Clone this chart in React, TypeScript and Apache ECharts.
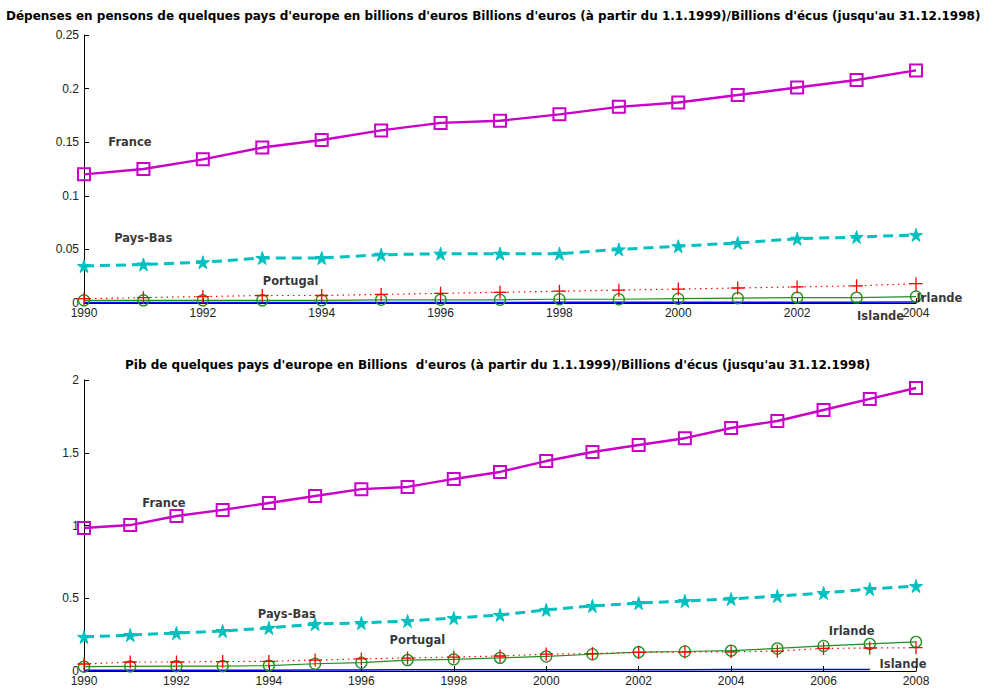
import React, { useEffect, useRef } from "react";
import * as echarts from "echarts";

// ---------- Data ----------
const yearsPension = [1990, 1991, 1992, 1993, 1994, 1995, 1996, 1997, 1998, 1999, 2000, 2001, 2002, 2003, 2004];
const pensionFrance = [0.120, 0.125, 0.134, 0.145, 0.152, 0.161, 0.168, 0.170, 0.176, 0.183, 0.187, 0.194, 0.201, 0.208, 0.217];
const pensionPaysBas = [0.0345, 0.036, 0.038, 0.042, 0.042, 0.045, 0.046, 0.046, 0.046, 0.050, 0.053, 0.056, 0.060, 0.0615, 0.0635];
const pensionPortugal = [0.004, 0.005, 0.006, 0.007, 0.007, 0.008, 0.009, 0.010, 0.011, 0.012, 0.013, 0.014, 0.015, 0.016, 0.018];
const pensionIrlande = [0.0025, 0.0025, 0.0025, 0.0025, 0.0025, 0.003, 0.003, 0.003, 0.0035, 0.0035, 0.004, 0.0045, 0.005, 0.005, 0.006];
const pensionIslande = [0.0004, 0.0004, 0.0004, 0.0004, 0.0004, 0.0005, 0.0005, 0.0005, 0.0006, 0.0006, 0.0007, 0.0007, 0.0008, 0.0008, 0.0009];

const yearsPib = [1990, 1991, 1992, 1993, 1994, 1995, 1996, 1997, 1998, 1999, 2000, 2001, 2002, 2003, 2004, 2005, 2006, 2007, 2008];
const pibFrance = [0.983, 1.003, 1.065, 1.107, 1.155, 1.203, 1.25, 1.265, 1.32, 1.368, 1.443, 1.505, 1.553, 1.60, 1.67, 1.718, 1.794, 1.87, 1.945];
const pibPaysBas = [0.234, 0.247, 0.261, 0.275, 0.296, 0.323, 0.33, 0.344, 0.364, 0.385, 0.42, 0.447, 0.467, 0.481, 0.495, 0.515, 0.536, 0.564, 0.584];
const pibPortugal = [0.048, 0.062, 0.062, 0.065, 0.066, 0.075, 0.083, 0.089, 0.096, 0.103, 0.116, 0.12, 0.128, 0.13, 0.132, 0.137, 0.155, 0.158, 0.16];
const pibIrlande = [0.03, 0.032, 0.033, 0.034, 0.037, 0.05, 0.057, 0.075, 0.08, 0.09, 0.1, 0.115, 0.13, 0.134, 0.14, 0.155, 0.172, 0.186, 0.2];
const pibIslande = [0.006, 0.006, 0.006, 0.006, 0.006, 0.007, 0.007, 0.008, 0.008, 0.009, 0.009, 0.009, 0.009, 0.009, 0.010, 0.010, 0.010, 0.010, null];

const titlePension = "Dépenses en pensons de quelques pays d'europe en billions d'euros Billions d'euros (à partir du 1.1.1999)/Billions d'écus (jusqu'au 31.12.1998)";
const titlePib = "Pib de quelques pays d'europe en Billions  d'euros (à partir du 1.1.1999)/Billions d'écus (jusqu'au 31.12.1998)";

const labelNames = ["France", "Pays-Bas", "Portugal", "Irlande", "Islande"];
const pensionLabelX = [1990.4, 1990.5, 1993.0, 2004.0, 2003.0];
const pensionLabelY = [0.15, 0.0605, 0.0205, 0.005, -0.012];
const pibLabelX = [1991.25, 1993.75, 1996.6, 2006.1, 2007.2];
const pibLabelY = [1.155, 0.39, 0.213, 0.275, 0.05];

// ---------- Styles ----------
const FONT = "'Liberation Sans', Arial, sans-serif";
const BOLD_FONT = "'DejaVu Sans', 'Liberation Sans', Arial, sans-serif";
const C_FRANCE = "#c800c8";
const C_PAYSBAS = "#00c0c0";
const C_PORTUGAL = "#ff0000";
const C_IRLANDE = "#1f8f1f";
const C_ISLANDE = "#0000ff";
const STAR = "path://M50,0 L61,35 L98,35 L68,57 L79,91 L50,70 L21,91 L32,57 L2,35 L39,35 Z";
const PLUS = "path://M0,5 L10,5 M5,0 L5,10";

function pairs(xs: number[], ys: (number | null)[]) {
  return xs.map((x, i) => [x, ys[i]]);
}

function makeSeries(idx: number, xs: number[], fr: number[], pb: number[], pt: number[], ir: number[], is: (number | null)[], lx: number[], ly: number[]) {
  return [
    {
      type: "line", xAxisIndex: idx, yAxisIndex: idx, data: pairs(xs, is),
      symbol: "none", lineStyle: { color: C_ISLANDE, width: 1.5 }, z: 2,
    },
    {
      type: "line", xAxisIndex: idx, yAxisIndex: idx, data: pairs(xs, ir),
      symbol: "circle", symbolSize: 11,
      itemStyle: { color: "rgba(0,0,0,0)", borderColor: C_IRLANDE, borderWidth: 1.3 },
      lineStyle: { color: C_IRLANDE, width: 1.2 }, z: 3,
    },
    {
      type: "line", xAxisIndex: idx, yAxisIndex: idx, data: pairs(xs, pt),
      symbol: PLUS, symbolSize: 13,
      itemStyle: { color: "rgba(0,0,0,0)", borderColor: C_PORTUGAL, borderWidth: 1.3 },
      lineStyle: { color: C_PORTUGAL, width: 1.2, type: [1.5, 4] }, z: 4,
    },
    {
      type: "line", xAxisIndex: idx, yAxisIndex: idx, data: pairs(xs, pb),
      symbol: STAR, symbolSize: 13,
      itemStyle: { color: C_PAYSBAS, borderColor: C_PAYSBAS, borderWidth: 1 },
      lineStyle: { color: C_PAYSBAS, width: 3, type: [10, 6] }, z: 5,
    },
    {
      type: "line", xAxisIndex: idx, yAxisIndex: idx, data: pairs(xs, fr),
      symbol: "rect", symbolSize: 12,
      itemStyle: { color: "rgba(0,0,0,0)", borderColor: C_FRANCE, borderWidth: 2 },
      lineStyle: { color: C_FRANCE, width: 2.4 }, z: 6,
    },
    {
      type: "scatter", xAxisIndex: idx, yAxisIndex: idx, clip: false,
      data: labelNames.map((n, i) => ({ name: n, value: [lx[i], ly[i]] })),
      symbolSize: 1, itemStyle: { color: "rgba(0,0,0,0)" }, z: 10,
      label: {
        show: true, position: "right", distance: 0, formatter: "{b}",
        fontFamily: BOLD_FONT, fontSize: 11.5, fontWeight: "bold", color: "#000",
      },
      silent: true,
    },
  ];
}

function axisCommon() {
  return {
    axisLine: { show: true, lineStyle: { color: "#000", width: 1 } },
    axisTick: { show: true, inside: true, length: 5, lineStyle: { color: "#000" } },
    splitLine: { show: false },
    axisLabel: { fontFamily: FONT, fontSize: 12, color: "#222" },
  };
}

const yearFmt = (v: number) => String(v);

export default function App() {
  const ref = useRef<HTMLDivElement>(null);
  useEffect(() => {
    if (!ref.current) return;
    const chart = echarts.init(ref.current, undefined, { renderer: "svg" });
    const ac = axisCommon();
    const titleStyle = { fontFamily: BOLD_FONT, fontSize: 12, fontWeight: "bold", color: "#000" };
    chart.setOption({
      animation: false,
      backgroundColor: "#fff",
      title: [
        { text: titlePension, left: 6, top: 10, padding: [0, 0, 0, 0], textStyle: titleStyle },
        { text: titlePib, left: 125, top: 359, padding: [0, 0, 0, 0], textStyle: titleStyle },
      ],
      grid: [
        { left: 84, top: 35, width: 832, height: 268 },
        { left: 84, top: 380, width: 832, height: 291 },
      ],
      xAxis: [
        { ...ac, type: "value", gridIndex: 0, min: 1990, max: 2004, interval: 2, axisLabel: { ...ac.axisLabel, margin: 4, formatter: yearFmt } },
        { ...ac, type: "value", gridIndex: 1, min: 1990, max: 2008, interval: 2, axisLabel: { ...ac.axisLabel, margin: 4, formatter: yearFmt } },
      ],
      yAxis: [
        { ...ac, type: "value", gridIndex: 0, min: 0, max: 0.25, interval: 0.05, axisLabel: { ...ac.axisLabel, margin: 5 } },
        { ...ac, type: "value", gridIndex: 1, min: 0, max: 2, interval: 0.5, axisLabel: { ...ac.axisLabel, margin: 5 } },
      ],
      series: [
        ...makeSeries(0, yearsPension, pensionFrance, pensionPaysBas, pensionPortugal, pensionIrlande, pensionIslande, pensionLabelX, pensionLabelY),
        ...makeSeries(1, yearsPib, pibFrance, pibPaysBas, pibPortugal, pibIrlande, pibIslande, pibLabelX, pibLabelY),
      ],
    });
    return () => chart.dispose();
  }, []);
  return <div ref={ref} style={{ position: "fixed", left: 0, top: 0, width: 985, height: 689 }} />;
}
